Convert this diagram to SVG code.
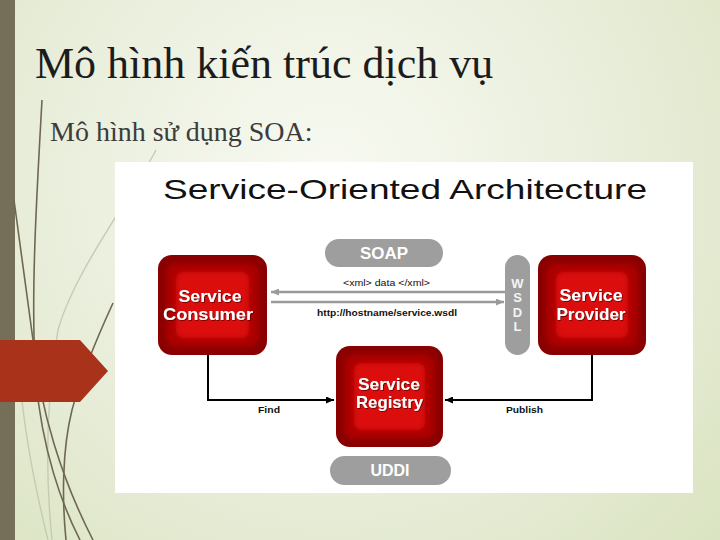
<svg xmlns="http://www.w3.org/2000/svg" width="720" height="540" viewBox="0 0 720 540">
  <defs>
    <radialGradient id="bg" cx="330" cy="180" r="520" gradientUnits="userSpaceOnUse">
      <stop offset="0" stop-color="#f8faf2"/>
      <stop offset="0.55" stop-color="#e9eedb"/>
      <stop offset="1" stop-color="#dbe4c2"/>
    </radialGradient>
    <filter id="soft" x="-20%" y="-20%" width="140%" height="140%">
      <feGaussianBlur stdDeviation="2.5"/>
    </filter>
    <filter id="shadow" x="-10%" y="-30%" width="120%" height="160%">
      <feDropShadow dx="0.8" dy="0.8" stdDeviation="0.6" flood-color="#400000" flood-opacity="0.8"/>
    </filter>
    <marker id="arrowGray" viewBox="0 0 8 7" refX="8" refY="3.5" markerWidth="8" markerHeight="7" markerUnits="userSpaceOnUse" orient="auto">
      <path d="M0,0 L8,3.5 L0,7 z" fill="#9a9a9a"/>
    </marker>
    <marker id="arrowBlack" viewBox="0 0 8 7" refX="8" refY="3.5" markerWidth="8" markerHeight="7" markerUnits="userSpaceOnUse" orient="auto">
      <path d="M0,0 L8,3.5 L0,7 z" fill="#000"/>
    </marker>
  </defs>
  <style>
    .slideTitle { font-family: "Liberation Serif", "Times New Roman", serif; fill: #1c1c1c; }
    .decoDark { fill: none; stroke: #6e6851; stroke-width: 1.6; }
    .decoLight { fill: none; stroke: #c6cab2; stroke-width: 1.4; }
    .outer { fill: #8a0000; }
    .mid { fill: #aa0000; }
    .inner { fill: #dc0a0a; }
    .nodeText { font-family: "Liberation Sans", Arial, sans-serif; font-weight: bold; font-size: 17px; fill: #ffffff; text-anchor: middle; }
    .pill { fill: #9e9e9e; }
    .pillText { font-family: "Liberation Sans", Arial, sans-serif; font-weight: bold; font-size: 16px; fill: #ffffff; text-anchor: middle; }
    .wsdlText { font-family: "Liberation Sans", Arial, sans-serif; font-weight: bold; font-size: 13px; fill: #f4f4f4; text-anchor: middle; }
    .small { font-family: "Liberation Sans", Arial, sans-serif; font-size: 9px; fill: #111; }
    .smallBold { font-family: "Liberation Sans", Arial, sans-serif; font-size: 9px; font-weight: bold; fill: #111; }
    .grayLine { stroke: #9a9a9a; stroke-width: 2.5; fill: none; }
    .blackLine { stroke: #000; stroke-width: 2; fill: none; }
  </style>

  <!-- slide background -->
  <rect x="0" y="0" width="720" height="540" fill="url(#bg)"/>
  <rect x="0" y="0" width="15" height="540" fill="#756e58"/>

  <!-- decorative stems -->
  <g id="decor">
    <path class="decoLight" d="M156,150 C130,200 75,270 58,330 C46,400 45,470 52,540"/>
    <path class="decoLight" d="M20,380 C25,440 38,500 48,540"/>
    <path class="decoDark" d="M42,100 C37,190 30,300 36,380 C42,450 62,505 80,540"/>
    <path class="decoDark" d="M14,200 C22,260 28,300 33,340 C40,410 62,480 93,540"/>
    <path class="decoDark" d="M113,303 C96,340 80,380 72,410 C62,450 62,500 66,540"/>
  </g>

  <!-- red arrow tab -->
  <polygon id="tab" points="0,340 80,340 108,371 80,402 0,402" fill="#a8321a"/>

  <!-- slide titles -->
  <g id="slide-title">
    <text class="slideTitle" x="35" y="78" font-size="44">Mô hình kiến trúc dịch vụ</text>
  </g>
  <g id="slide-subtitle">
    <text class="slideTitle" x="50" y="141" font-size="28" style="fill:#3c3c3c">Mô hình sử dụng SOA:</text>
  </g>

  <!-- embedded diagram image area -->
  <rect id="image-bg" x="115" y="162" width="578" height="331" fill="#ffffff"/>

  <g id="diagram-title">
    <text x="163" y="199" font-family="'Liberation Sans', Arial, sans-serif" font-size="28" fill="#111" textLength="484" lengthAdjust="spacingAndGlyphs">Service-Oriented Architecture</text>
  </g>

  <!-- connectors -->
  <g id="connectors">
    <line class="grayLine" x1="505" y1="292" x2="271" y2="292" marker-end="url(#arrowGray)"/>
    <line class="grayLine" x1="271" y1="302" x2="504" y2="302" marker-end="url(#arrowGray)"/>
    <text class="small" x="343" y="286" textLength="87" lengthAdjust="spacingAndGlyphs">&lt;xml&gt; data &lt;/xml&gt;</text>
    <text class="smallBold" x="317" y="316" textLength="140" lengthAdjust="spacingAndGlyphs">http://hostname/service.wsdl</text>
    <polyline class="blackLine" points="208,355 208,400 334,400" marker-end="url(#arrowBlack)"/>
    <text class="smallBold" x="258" y="413" textLength="22" lengthAdjust="spacingAndGlyphs">Find</text>
    <polyline class="blackLine" points="592,355 592,400 445,400" marker-end="url(#arrowBlack)"/>
    <text class="smallBold" x="506" y="413" textLength="37" lengthAdjust="spacingAndGlyphs">Publish</text>
  </g>

  <!-- SOAP -->
  <g id="soap">
    <rect class="pill" x="325" y="239" width="118" height="28" rx="14"/>
    <text class="pillText" x="384" y="259" textLength="48" lengthAdjust="spacingAndGlyphs">SOAP</text>
  </g>

  <!-- WSDL -->
  <g id="wsdl">
    <rect class="pill" x="505" y="255" width="25" height="100" rx="12.5"/>
    <text class="wsdlText" x="517.5" y="288">W</text>
    <text class="wsdlText" x="517.5" y="302">S</text>
    <text class="wsdlText" x="517.5" y="317">D</text>
    <text class="wsdlText" x="517.5" y="331">L</text>
  </g>

  <!-- Service Consumer -->
  <g id="node-consumer">
    <rect class="outer" x="158" y="255" width="109" height="100" rx="14"/>
    <rect class="mid" x="166" y="263" width="93" height="84" rx="10" filter="url(#soft)"/>
    <rect class="inner" x="176" y="272" width="73" height="66" rx="7" filter="url(#soft)"/>
    <text class="nodeText" x="210" y="302" textLength="63" lengthAdjust="spacingAndGlyphs" filter="url(#shadow)">Service</text>
    <text class="nodeText" x="208" y="320" textLength="90" lengthAdjust="spacingAndGlyphs" filter="url(#shadow)">Consumer</text>
  </g>

  <!-- Service Provider -->
  <g id="node-provider">
    <rect class="outer" x="538" y="255" width="108" height="100" rx="14"/>
    <rect class="mid" x="546" y="263" width="92" height="84" rx="10" filter="url(#soft)"/>
    <rect class="inner" x="556" y="272" width="72" height="66" rx="7" filter="url(#soft)"/>
    <text class="nodeText" x="591" y="301" textLength="63" lengthAdjust="spacingAndGlyphs" filter="url(#shadow)">Service</text>
    <text class="nodeText" x="591" y="320" textLength="69" lengthAdjust="spacingAndGlyphs" filter="url(#shadow)">Provider</text>
  </g>

  <!-- Service Registry -->
  <g id="node-registry">
    <rect class="outer" x="336" y="346" width="107" height="101" rx="14"/>
    <rect class="mid" x="344" y="354" width="91" height="85" rx="10" filter="url(#soft)"/>
    <rect class="inner" x="354" y="363" width="71" height="67" rx="7" filter="url(#soft)"/>
    <text class="nodeText" x="389" y="390" textLength="62" lengthAdjust="spacingAndGlyphs" filter="url(#shadow)">Service</text>
    <text class="nodeText" x="389.5" y="408" textLength="67" lengthAdjust="spacingAndGlyphs" filter="url(#shadow)">Registry</text>
  </g>

  <!-- UDDI -->
  <g id="uddi">
    <rect class="pill" x="330" y="456" width="121" height="29" rx="14.5"/>
    <text class="pillText" x="390" y="476" textLength="39" lengthAdjust="spacingAndGlyphs">UDDI</text>
  </g>
</svg>
